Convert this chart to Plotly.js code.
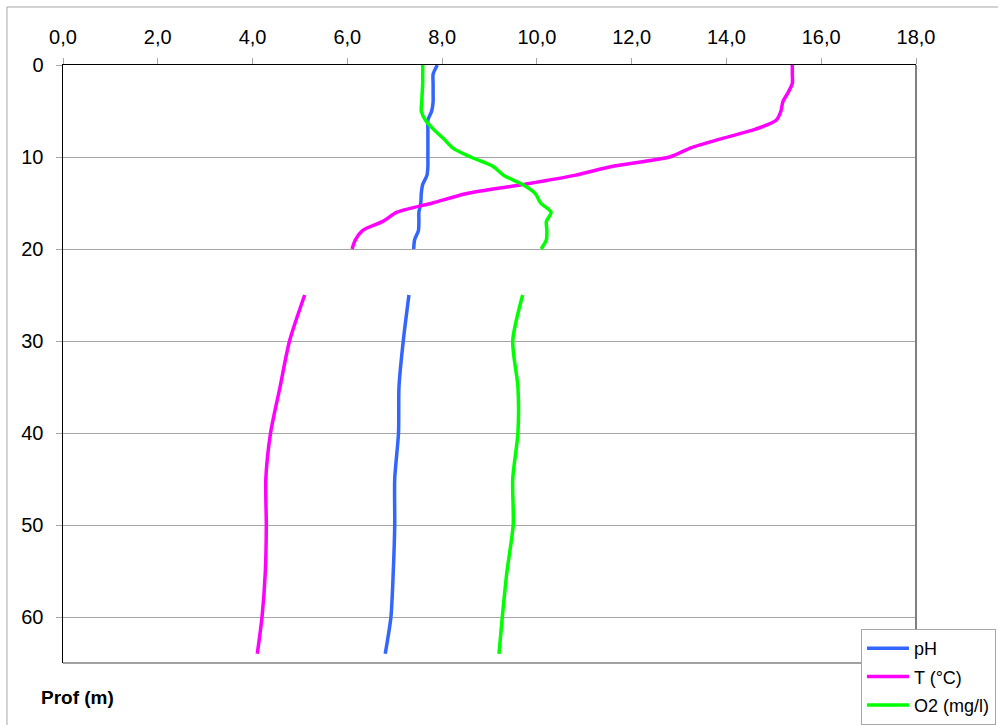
<!DOCTYPE html>
<html>
<head>
<meta charset="utf-8">
<script src="https://cdn.plot.ly/plotly-3.0.1.min.js"></script>
<style>
html,body{margin:0;padding:0;background:#fff;}
#chart{width:998px;height:725px;}
</style>
</head>
<body>
<div id="chart"></div>
<script>
// Depth (m); null marks the gap between the two measured segments
const depth = [0,1,2,3,4,5,6,7,8,9,10,11,12,13,14,15,16,17,18,19,20,null,25,30,35,40,45,50,55,60,64];
const pH = [7.90,7.81,7.81,7.81,7.81,7.78,7.70,7.70,7.70,7.70,7.70,7.70,7.68,7.59,7.56,7.55,7.51,7.51,7.50,7.42,7.40,null,7.30,7.18,7.09,7.08,7.00,7.00,6.97,6.92,6.80];
const temp = [15.39,15.39,15.39,15.30,15.19,15.15,15.05,14.60,13.90,13.25,12.80,11.60,10.80,9.70,8.50,7.80,7.05,6.75,6.32,6.17,6.10,null,5.10,4.78,4.58,4.38,4.28,4.29,4.27,4.20,4.10];
const o2 = [7.59,7.59,7.59,7.58,7.57,7.56,7.65,7.82,8.03,8.22,8.60,9.07,9.30,9.70,9.97,10.08,10.30,10.20,10.21,10.20,10.09,null,9.70,9.49,9.60,9.60,9.49,9.50,9.37,9.27,9.20];
const seriesNames = ['pH','T (°C)','O2 (mg/l)'];
const xTickVals = [0,2,4,6,8,10,12,14,16,18];
const xTickText = ['0,0','2,0','4,0','6,0','8,0','10,0','12,0','14,0','16,0','18,0'];
const yTickVals = [0,10,20,30,40,50,60];

const colors = ['#3366FF','#FF00FF','#00FF00'];
const data = [pH,temp,o2].map((vals,i)=>({
  type:'scatter', mode:'lines', x:vals, y:depth, name:seriesNames[i],
  legendgroup:'g'+i, connectgaps:false,
  line:{color:colors[i], width:3.5, shape:'spline', smoothing:0.7}
}));

const gray='#a6a6a6';
const layout = {
  width:998, height:725,
  margin:{l:63, r:82, t:65, b:62, autoexpand:false},
  paper_bgcolor:'#fff', plot_bgcolor:'#fff',
  font:{family:'Liberation Sans, Arial, sans-serif', color:'#000', size:20},
  showlegend:true,
  legend:{x:0.9355, y:0.0569, xanchor:'left', yanchor:'top',
    bgcolor:'#fff', bordercolor:gray, borderwidth:1,
    font:{size:18, family:'Liberation Sans, Arial, sans-serif'},
    tracegroupgap:2, itemwidth:42},
  xaxis:{side:'top', range:[0,18], tickvals:xTickVals, ticktext:xTickText,
    showgrid:false, zeroline:false, showline:true, linecolor:'#000', linewidth:1.5,
    ticks:'outside', ticklen:6, tickcolor:gray, tickwidth:1, ticklabelstandoff:6,
    tickfont:{size:20}},
  yaxis:{range:[65,0], tickvals:yTickVals, showgrid:true, gridcolor:gray, gridwidth:1,
    zeroline:false, showline:true, linecolor:'#000', linewidth:1.5,
    ticks:'outside', ticklen:6, tickcolor:gray, tickwidth:1, ticklabelstandoff:8,
    tickfont:{size:20}},
  shapes:[
    {type:'line', xref:'paper', yref:'paper', x0:1, x1:1, y0:0, y1:1, line:{color:'#808080', width:2}},
    {type:'line', xref:'paper', yref:'paper', x0:0, x1:1, y0:0, y1:0, line:{color:'#808080', width:1.5}},
    {type:'line', xref:'paper', yref:'paper', x0:-0.0657, x1:1.2, y0:1.097, y1:1.097, line:{color:gray, width:1}},
    {type:'line', xref:'paper', yref:'paper', x0:-0.0657, x1:-0.0657, y0:-0.2, y1:1.097, line:{color:gray, width:1}}
  ],
  annotations:[
    {text:'<b>Prof (m)</b>', xref:'paper', yref:'paper', x:-0.0281, y:-0.0585,
     xanchor:'left', yanchor:'middle', showarrow:false, font:{size:19}}
  ]
};
Plotly.newPlot('chart', data, layout, {displayModeBar:false, staticPlot:true});
</script>
</body>
</html>
